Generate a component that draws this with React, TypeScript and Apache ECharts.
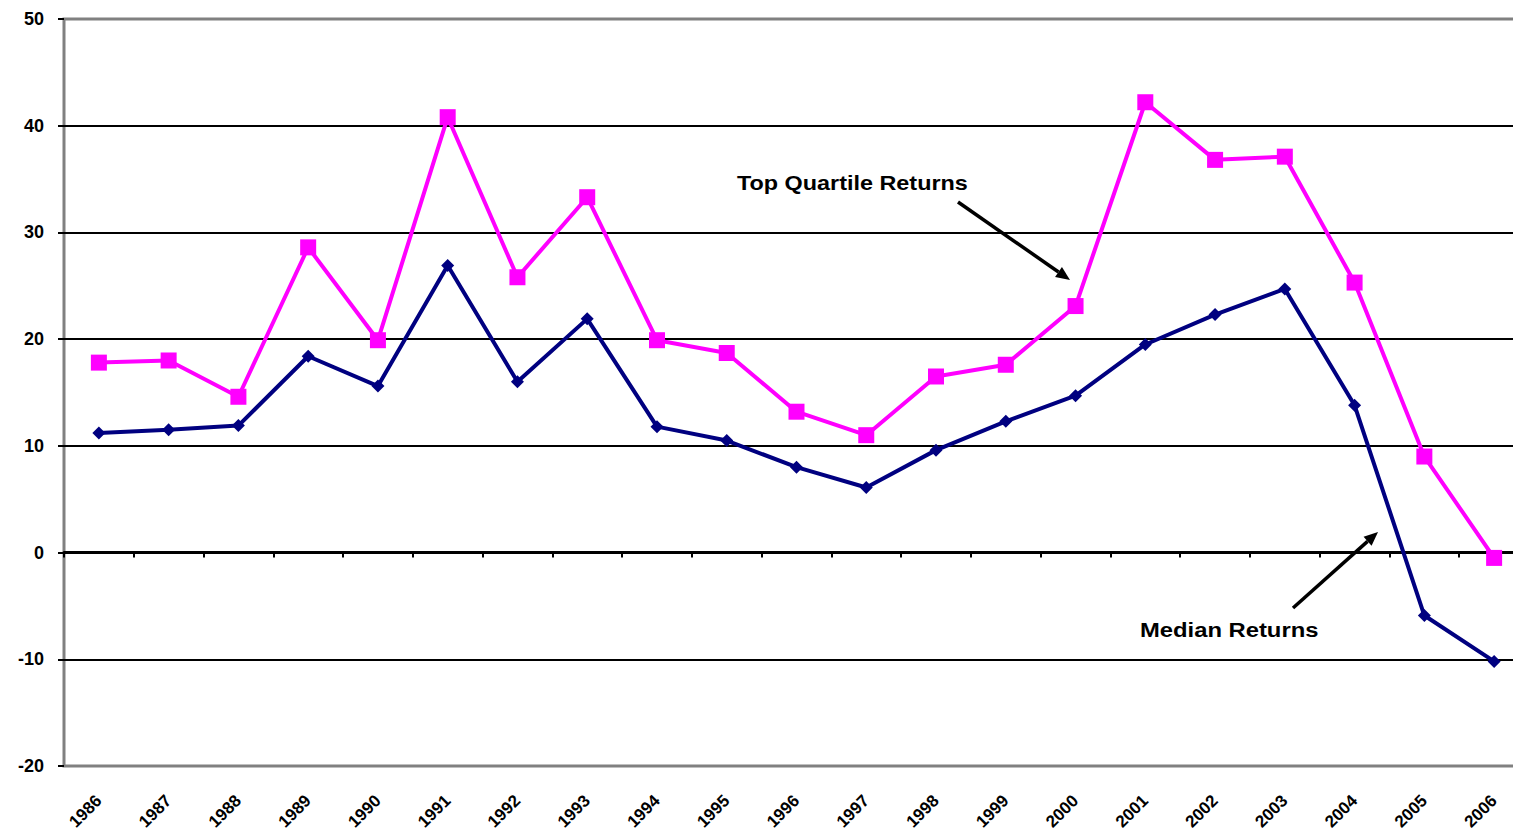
import React, { useEffect, useRef } from "react";
import * as echarts from "echarts";

const years = ["1986","1987","1988","1989","1990","1991","1992","1993","1994","1995","1996","1997","1998","1999","2000","2001","2002","2003","2004","2005","2006"];
const topQuartile = [17.8, 18.0, 14.6, 28.6, 19.9, 40.8, 25.8, 33.3, 19.9, 18.7, 13.2, 11.0, 16.5, 17.6, 23.1, 42.2, 36.8, 37.1, 25.3, 9.0, -0.5];
const median = [11.2, 11.5, 11.9, 18.4, 15.6, 26.9, 16.0, 21.9, 11.8, 10.5, 8.0, 6.1, 9.6, 12.3, 14.7, 19.5, 22.3, 24.7, 13.8, -5.9, -10.2];
const yMin = -20;
const yMax = 50;
const yStep = 10;

const FONT = "'Liberation Sans', Arial, sans-serif";

function arrow(x1: number, y1: number, x2: number, y2: number) {
  const dx = x2 - x1, dy = y2 - y1;
  const len = Math.sqrt(dx * dx + dy * dy);
  const ux = dx / len, uy = dy / len;
  const hl = 14, hw = 6;
  const bx = x2 - ux * hl, by = y2 - uy * hl;
  const px = -uy, py = ux;
  return [
    { type: "line", shape: { x1, y1, x2: bx, y2: by }, style: { stroke: "#000", lineWidth: 3.5 }, z: 100 },
    { type: "polygon", shape: { points: [[x2, y2], [bx + px * hw, by + py * hw], [bx - px * hw, by - py * hw]] }, style: { fill: "#000" }, z: 100 },
  ];
}

export default function App() {
  const ref = useRef<HTMLDivElement>(null);
  useEffect(() => {
    const chart = echarts.init(ref.current!, null, { renderer: "svg" });
    chart.setOption({
      animation: false,
      backgroundColor: "#fff",
      grid: { left: 64, top: 19, width: 1465, height: 747, show: true, borderColor: "#808080", borderWidth: 3, backgroundColor: "transparent" },
      xAxis: [
        {
          type: "category",
          data: years,
          boundaryGap: true,
          axisLine: { show: true, onZero: true, lineStyle: { color: "#000", width: 3 } },
          axisTick: { show: true, length: 5, inside: false, lineStyle: { color: "#000", width: 2 } },
          axisLabel: { show: false },
          splitLine: { show: false },
          z: 5,
        },
        {
          type: "category",
          data: years,
          position: "bottom",
          boundaryGap: true,
          axisLine: { show: false, onZero: false },
          axisTick: { show: false },
          axisLabel: { show: true, rotate: 45, margin: 32, fontSize: 17, fontWeight: "bold", fontFamily: FONT, color: "#000" },
          splitLine: { show: false },
        },
      ],
      yAxis: {
        type: "value",
        min: yMin,
        max: yMax,
        interval: yStep,
        axisLine: { show: false },
        axisTick: { show: true, length: 6, lineStyle: { color: "#000", width: 2 } },
        axisLabel: { margin: 20, fontSize: 18, fontWeight: "bold", fontFamily: FONT, color: "#000" },
        splitLine: { show: true, showMinLine: false, showMaxLine: false, lineStyle: { color: "#000", width: 2 } },
      },
      series: [
        {
          name: "Top Quartile Returns",
          type: "line",
          xAxisIndex: 0,
          data: topQuartile,
          symbol: "rect",
          symbolSize: 16,
          lineStyle: { color: "#FF00FF", width: 4 },
          itemStyle: { color: "#FF00FF" },
          z: 10,
        },
        {
          name: "Median Returns",
          type: "line",
          xAxisIndex: 0,
          data: median,
          symbol: "diamond",
          symbolSize: 13,
          lineStyle: { color: "#000080", width: 4 },
          itemStyle: { color: "#000080" },
          z: 11,
        },
      ],
      graphic: [
        { type: "text", x: 737, y: 183, scaleX: 1.17, z: 100, style: { text: "Top Quartile Returns", font: `bold 20px ${FONT}`, fill: "#000", textVerticalAlign: "middle", textAlign: "left" } },
        { type: "text", x: 1140, y: 630, scaleX: 1.19, z: 100, style: { text: "Median Returns", font: `bold 20px ${FONT}`, fill: "#000", textVerticalAlign: "middle", textAlign: "left" } },
        ...arrow(958, 202, 1070, 280),
        ...arrow(1293, 608, 1378, 532),
      ],
    });
    return () => chart.dispose();
  }, []);
  return (
    <div style={{ position: "absolute", left: 0, top: 0, width: 1513, height: 835, overflow: "hidden", background: "#fff" }}>
      <div ref={ref} style={{ width: 1540, height: 835 }} />
    </div>
  );
}
